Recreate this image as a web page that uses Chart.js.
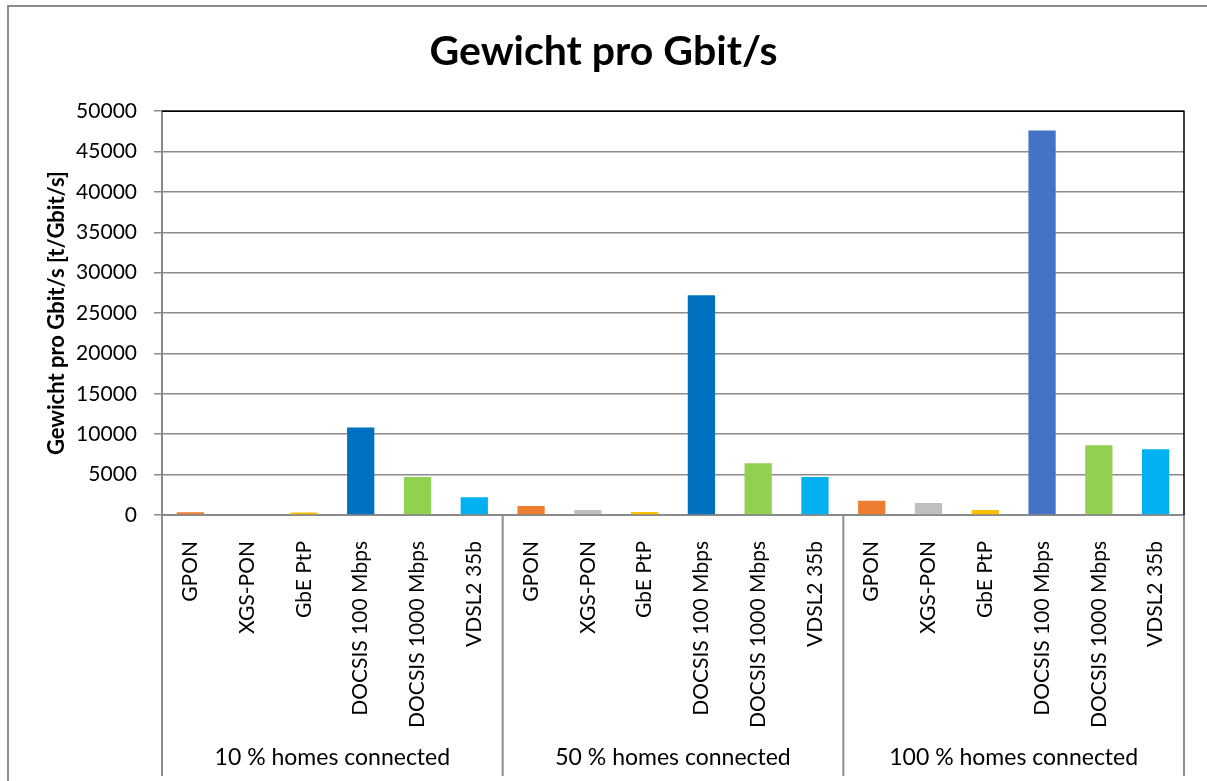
<!DOCTYPE html>
<html>
<head>
<meta charset="utf-8">
<script src="https://cdn.jsdelivr.net/npm/chart.js@4/dist/chart.umd.min.js"></script>
<style>
	html, body { margin: 0; padding: 0; background: #fff; }
	#wrap { width: 1207px; height: 781px; }
</style>
</head>
<body>
<div id="wrap"><canvas id="canvas" width="1207" height="781"></canvas></div>
<script>
// data
var groups = ['10 % homes connected', '50 % homes connected', '100 % homes connected'];
var technologies = ['GPON', 'XGS-PON', 'GbE PtP', 'DOCSIS 100 Mbps', 'DOCSIS 1000 Mbps', 'VDSL2 35b'];
var values10 = [350, 100, 300, 10850, 4700, 2200];
var values50 = [1100, 620, 370, 27200, 6400, 4700];
var values100 = [1750, 1500, 620, 47600, 8650, 8150];
var yTicks = [0, 5000, 10000, 15000, 20000, 25000, 30000, 35000, 40000, 45000, 50000];

var colors = ['#ED7D31', '#BFBFBF', '#FFC000', '#0070C0', '#92D050', '#00B0F0'];
var colors100 = ['#ED7D31', '#BFBFBF', '#FFC000', '#4472C4', '#92D050', '#00B0F0'];

var labels = technologies.concat(technologies, technologies);
var values = values10.concat(values50, values100);
var barColors = colors.concat(colors, colors100);

var fontName = 'Lato';

var framePlugin = {
	id: 'frame',
	beforeDraw: function(chart) {
		var ctx = chart.ctx;
		ctx.save();
		ctx.strokeStyle = '#8C8C8C';
		ctx.lineWidth = 2;
		ctx.strokeRect(8, 6, 1400, 1000);
		ctx.restore();
	},
	afterDraw: function(chart) {
		var ctx = chart.ctx;
		var area = chart.chartArea;
		var x = chart.scales.x;
		ctx.save();
		// plot border top / right
		ctx.strokeStyle = '#000';
		ctx.lineWidth = 1.5;
		ctx.beginPath();
		ctx.moveTo(area.left, area.top);
		ctx.lineTo(area.right, area.top);
		ctx.lineTo(area.right, area.bottom);
		ctx.stroke();

		// group separators and labels
		var n = technologies.length;
		var bounds = [area.left];
		for (var g = 1; g < groups.length; g++) {
			bounds.push((x.getPixelForValue(g * n - 1) + x.getPixelForValue(g * n)) / 2);
		}
		bounds.push(area.right);
		ctx.strokeStyle = '#8C8C8C';
		ctx.lineWidth = 2;
		bounds.forEach(function(b) {
			ctx.beginPath();
			ctx.moveTo(b, area.bottom);
			ctx.lineTo(b, 776);
			ctx.stroke();
		});
		ctx.fillStyle = '#000';
		ctx.font = '23px ' + fontName;
		ctx.textAlign = 'center';
		ctx.textBaseline = 'middle';
		for (var i = 0; i < groups.length; i++) {
			ctx.fillText(groups[i], (bounds[i] + bounds[i + 1]) / 2, 758);
		}
		ctx.restore();
	}
};

var ctx = document.getElementById('canvas').getContext('2d');
var config = {
	type: 'bar',
	data: {
		labels: labels,
		datasets: [{
			data: values,
			backgroundColor: barColors,
			borderWidth: 0,
			categoryPercentage: 1,
			barPercentage: 0.48
		}]
	},
	options: {
		responsive: false,
		animation: false,
		layout: { padding: 0 },
		plugins: {
			legend: { display: false },
			tooltip: { enabled: false },
			title: {
				display: true,
				text: 'Gewicht pro Gbit/s',
				color: '#000',
				font: { family: fontName, size: 41, weight: 'bold' },
				padding: { top: 27, bottom: 35 }
			}
		},
		scales: {
			x: {
				type: 'category',
				grid: { display: false },
				border: { display: true, color: '#898989', width: 2 },
				ticks: {
					color: '#000',
					font: { family: fontName, size: 21 },
					minRotation: 90,
					maxRotation: 90,
					autoSkip: false,
					padding: 18
				},
				afterFit: function(scale) { scale.height = 266; }
			},
			y: {
				min: 0,
				max: 50000,
				afterBuildTicks: function(scale) {
					scale.ticks = yTicks.map(function(v) { return { value: v }; });
				},
				grid: { color: '#8C8C8C', lineWidth: 1.5, tickLength: 8, drawTicks: true },
				border: { display: true, color: '#898989', width: 2 },
				ticks: {
					color: '#000',
					font: { family: fontName, size: 21 },
					padding: 17,
					callback: function(v) { return String(v); }
				},
				title: {
					display: true,
					text: 'Gewicht pro Gbit/s [t/Gbit/s]',
					color: '#000',
					font: { family: fontName, size: 22, weight: 'bold' },
					padding: { top: 44, bottom: 0 }
				},
				afterFit: function(scale) { scale.width = 162; }
			},
			yRight: {
				position: 'right',
				display: true,
				grid: { display: false },
				border: { display: false },
				ticks: { display: false },
				afterFit: function(scale) { scale.width = 23; }
			}
		}
	},
	plugins: [framePlugin]
};
window.myBar = new Chart(ctx, config);
</script>
</body>
</html>
